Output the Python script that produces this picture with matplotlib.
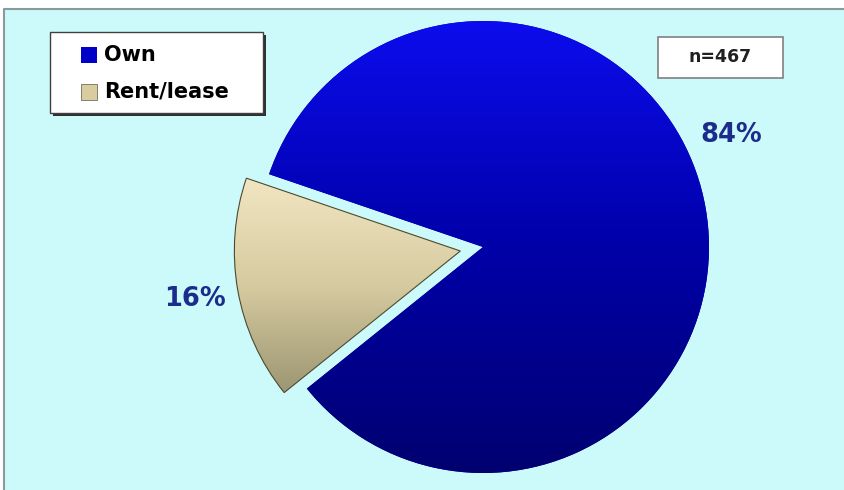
import numpy as np
import matplotlib.pyplot as plt
from matplotlib.patches import Rectangle
from matplotlib.colors import LinearSegmentedColormap

# Data
labels = ["Own", "Rent/lease"]
shares = [84, 16]
pct_labels = ["84%", "16%"]
n_text = "n=467"
colors = ["#0000C8", "#D8CCA0"]

plt.rcParams['font.family'] = ['DejaVu Sans']

H = 490  # figure height in px, data y runs upward
fig = plt.figure(figsize=(8.44, 4.9), dpi=100, facecolor="white")
ax = fig.add_axes([0, 0, 1, 1])

# background panel, border only on top and left
ax.add_patch(Rectangle((4, 0), 850, H - 9, facecolor="#CCFAFB",
                       edgecolor="none", zorder=0))
ax.plot([4, 4, 844], [0, H - 9, H - 9], color="#8A9A9A", lw=1.5, zorder=0.5)

# pie (pixel-like data coordinates)
wedges, _ = ax.pie(shares, colors=colors, startangle=218.8,
                   explode=[0, 23], radius=226, center=(483, 243),
                   counterclock=True, frame=True,
                   wedgeprops=dict(linewidth=0))

# gradient fills clipped to each wedge
grads = [
    LinearSegmentedColormap.from_list("own", ["#000070", "#0000A8", "#0C0CEE"]),
    LinearSegmentedColormap.from_list("rent", ["#9C9672", "#D6CAA0", "#F2E6C2"]),
]
for w, cmap in zip(wedges, grads):
    bb = w.get_path().get_extents(w.get_patch_transform())
    g = np.linspace(0, 1, 256).reshape(-1, 1)
    im = ax.imshow(g, cmap=cmap, origin="lower", aspect="auto",
                   extent=(bb.x0, bb.x1, bb.y0, bb.y1), zorder=1.5)
    im.set_clip_path(w)
wedges[1].set_zorder(1.6)
wedges[1].set_facecolor("none")
wedges[1].set_edgecolor("#4A4A30")
wedges[1].set_linewidth(0.8)

ax.set_xlim(0, 844)
ax.set_ylim(0, H)
ax.set_aspect("equal")
ax.axis("off")

# percentage labels
for txt, (x, y) in zip(pct_labels, [(731, 135), (195, 299)]):
    ax.text(x, H - y, txt, ha="center", va="center", fontsize=18.5,
            fontweight="bold", color="#1C2C8C", zorder=3)

# n box
ax.add_patch(Rectangle((658, H - 78), 125, 41, facecolor="white",
                       edgecolor="#808080", lw=1.2, zorder=3))
ax.text(720.5, H - 57.5, n_text, ha="center", va="center", fontsize=12.5,
        fontweight="bold", color="#202020", zorder=4)

# legend box with shadow
ax.add_patch(Rectangle((53, H - 116), 213, 81, facecolor="#303030",
                       edgecolor="none", zorder=3))
ax.add_patch(Rectangle((50, H - 113), 213, 81, facecolor="white",
                       edgecolor="#404040", lw=1.0, zorder=3.1))
for i, lab in enumerate(labels):
    yc = H - (55 + 37 * i)
    ax.add_patch(Rectangle((81, yc - 8), 16, 16, facecolor=colors[i],
                           edgecolor="#707060" if i else "none", lw=0.6,
                           zorder=3.2))
    ax.text(104, yc, lab, ha="left", va="center", fontsize=15,
            fontweight="bold", color="black", zorder=3.2)

plt.savefig("out.png", dpi=100, facecolor="white")
